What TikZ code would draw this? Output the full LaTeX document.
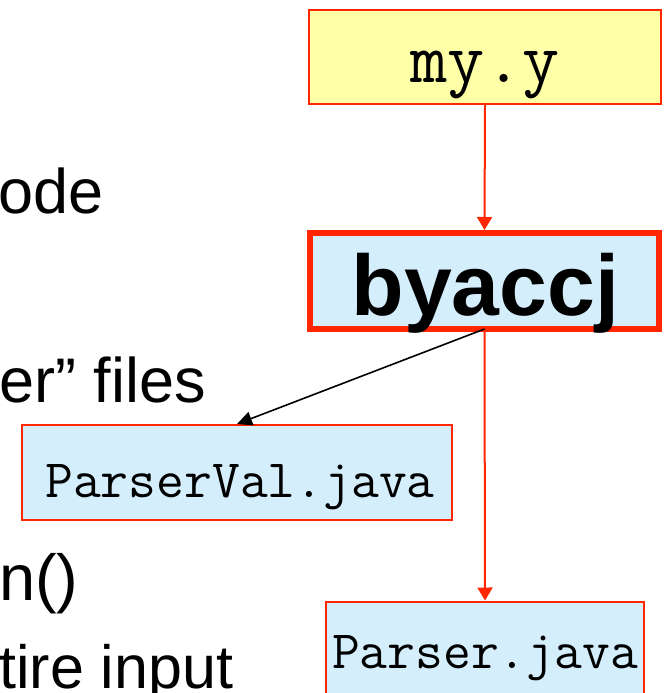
\documentclass[tikz,border=0pt]{standalone}
\usepackage{fontspec}
\setmainfont{Liberation Sans}
\usetikzlibrary{arrows.meta,calc}
\definecolor{boxred}{RGB}{255,38,0}
\definecolor{fileblue}{RGB}{212,238,252}
\definecolor{srcyellow}{RGB}{255,255,168}
\tikzset{
  filebox/.style={draw=boxred, line width=2pt, fill=fileblue, inner sep=0pt},
  srcbox/.style={draw=boxred, line width=2pt, fill=srcyellow, inner sep=0pt},
  toolbox/.style={draw=boxred, line width=6pt, fill=fileblue, inner sep=0pt},
  bodytext/.style={inner sep=0pt, font=\fontsize{63}{76}\selectfont},
  codelbl/.style={inner sep=0pt, anchor=base, font=\ttfamily\fontsize{54}{64}\selectfont},
  flow/.style={draw=boxred, line width=2pt, -{Triangle[length=13pt,width=15pt]}},
  aux/.style={draw=black, line width=1.6pt, -{Triangle[length=15pt,width=14pt]}}
}
\begin{document}
\begin{tikzpicture}[x=1pt,y=-1pt]
\useasboundingbox (0,0) rectangle (664,693);
\clip (0,0) rectangle (664,693);

% slide text on the left
\node[bodytext, anchor=base east] (t1) at (104,213) {ode};
\node[bodytext, anchor=base west] (t2) at (-1,402) {er” files};
\node[bodytext, anchor=base west, font=\fontsize{65}{78}\selectfont] (t3) at (-1,600) {n()};
\node[bodytext, anchor=base west, font=\fontsize{61}{74}\selectfont] (t4) at (-1,688) {tire input};

% boxes
\node[srcbox, minimum width=352pt, minimum height=94pt] (src) at (485,57) {};
\node[inner sep=0pt, anchor=base, font=\ttfamily\fontsize{72}{84}\selectfont] (srcl) at ($(src.center)+(0,25)$) {my.y};

\node[toolbox, minimum width=349pt, minimum height=96pt] (tool) at (484.5,281) {};
\node[inner sep=0pt, anchor=base, font=\bfseries\fontsize{86}{100}\selectfont] (tooll) at ($(tool.center)+(1,34)$) {byaccj};

\node[filebox, minimum width=430pt, minimum height=95pt] (pval) at (237,472.5) {};
\node[codelbl] (pvall) at ($(pval.center)+(3,24.5)$) {ParserVal.java};

\node[filebox, minimum width=318pt, minimum height=95pt] (parser) at (485,649) {};
\node[codelbl] (parserl) at ($(parser.center)+(0,19)$) {Parser.java};

% connectors
\draw[flow] (src.south) -- (tool.north);
\draw[flow] (tool.south) -- (parser.north);
\draw[aux] ($(tool.south)+(0,-3)$) -- (pval.north);
\end{tikzpicture}
\end{document}
